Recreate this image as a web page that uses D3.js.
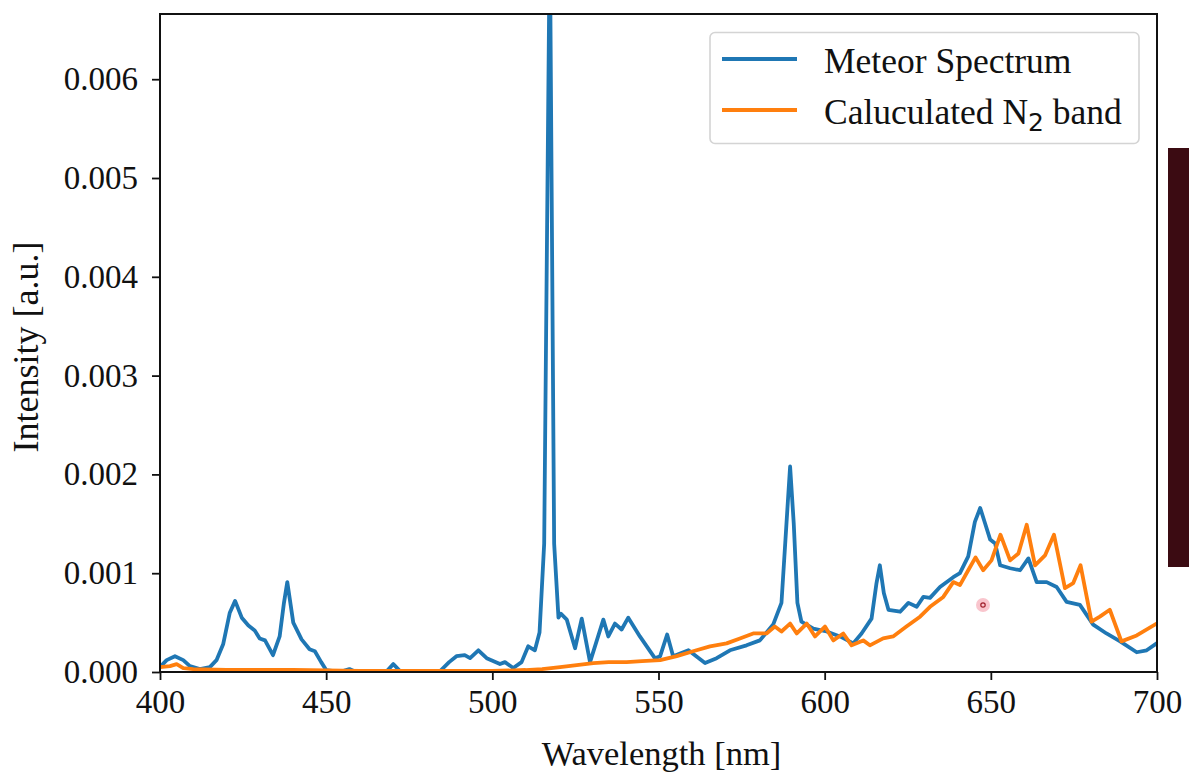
<!DOCTYPE html>
<html>
<head>
<meta charset="utf-8">
<script src="https://cdn.jsdelivr.net/npm/d3@7"></script>
<style>
  html, body { margin: 0; padding: 0; background: #ffffff; }
  svg { display: block; }
  text { font-family: "Liberation Serif", "Times New Roman", serif; fill: #111; }
</style>
</head>
<body>
<svg id="chart" width="1189" height="775"></svg>
<script>
// ---- Data ----
const meteorWavelength = [400,402,404.5,407,409,412,415,417,419,421,422.6,424.6,426.6,428.5,430,431.6,434,436,437.3,438.3,440.1,442.6,445,446.6,448.5,450,454,457,459,468,470.2,472.5,484,487,489.2,491.7,493.3,495.8,498.3,502.3,503.8,506.3,508.8,510.8,512.8,514.2,515.6,517.3,518.6,519.9,520.6,522.4,524.9,526.9,529.4,533.4,534.9,536.9,538.9,540.9,544.4,548.9,550.5,552.6,554.4,559,564,567.5,571.5,576.5,580.5,584.5,587,588.5,589.6,590.7,591.8,593,596.6,600.6,604.6,608.6,611.1,614.1,615.6,616.6,617.8,619.2,622.7,625.2,627.7,629.7,631.7,634.7,638.7,640.7,643.2,645.2,646.8,648.3,649.8,651.3,652.8,655.8,658.8,661.3,663.8,666.8,669.8,672.8,676.8,680.8,684.8,688.9,693.9,696.9,699.9];
const meteorIntensity = [0.00005,0.00012,0.00016,0.00012,0.00006,0.00003,0.00005,0.00012,0.00028,0.00060,0.00072,0.00055,0.00047,0.00042,0.00034,0.00032,0.00017,0.00036,0.00070,0.00091,0.00050,0.00033,0.00023,0.00021,0.00010,0.00002,0.0,0.00003,0.0,0.0,0.00008,0.0,0.0,0.00010,0.00016,0.00017,0.00014,0.00022,0.00014,0.00008,0.00010,0.00004,0.00010,0.00026,0.00022,0.00040,0.00130,0.00750,0.00130,0.00055,0.00059,0.00053,0.00024,0.00054,0.00010,0.00053,0.00036,0.00049,0.00043,0.00055,0.00036,0.00014,0.00016,0.00038,0.00016,0.00022,0.00009,0.00014,0.00022,0.00027,0.00032,0.00048,0.00070,0.00150,0.00208,0.00150,0.00070,0.00051,0.00044,0.00041,0.00036,0.00029,0.00039,0.00054,0.00090,0.00108,0.00080,0.00063,0.00061,0.00070,0.00066,0.00076,0.00075,0.00086,0.00096,0.00100,0.00117,0.00152,0.00166,0.00150,0.00134,0.00130,0.00108,0.00105,0.00103,0.00115,0.00091,0.00091,0.00086,0.00071,0.00068,0.00048,0.00039,0.00031,0.00020,0.00022,0.00029];

const n2Wavelength = [400,403,405,407,410,420,440,460,480,500,510,515,520.4,525.4,530.4,535,540.4,545,550.5,555.5,560.4,565.5,570.5,574.5,578.5,582.5,585,587,589.6,591.6,594.6,597.1,600.1,602.6,605.6,608.1,611.6,613.6,617.6,620.6,624.6,628.7,631.7,635.7,638.7,640.7,643.2,645.4,647.7,650.2,652.9,655.8,658.3,660.8,663.3,666.3,669,672.3,674.8,677,680.3,682.8,685.8,689.3,693.9,699.9];
const n2Intensity = [0.00005,0.00006,0.00008,0.00004,0.00003,0.00002,0.00002,0.00001,0.00001,0.00001,0.00002,0.00003,0.00005,0.00007,0.00009,0.00010,0.00010,0.00011,0.00012,0.00016,0.00021,0.00026,0.00029,0.00034,0.00039,0.00039,0.00046,0.00041,0.00049,0.00039,0.00049,0.00036,0.00046,0.00032,0.00039,0.00027,0.00032,0.00027,0.00034,0.00036,0.00046,0.00056,0.00066,0.00076,0.00091,0.00088,0.00103,0.00116,0.00103,0.00113,0.00139,0.00113,0.00120,0.00149,0.00108,0.00118,0.00139,0.00085,0.00090,0.00108,0.00051,0.00056,0.00063,0.00031,0.00037,0.00049];

const xTicks = [400,450,500,550,600,650,700];
const yTicks = [0.000,0.001,0.002,0.003,0.004,0.005,0.006];
const seriesNames = ["Meteor Spectrum", "Caluculated N"];
const seriesColors = ["#1f77b4", "#ff7f0e"];

// ---- Layout ----
const svg = d3.select("#chart");
const L = 160, R = 1157, T = 14, B = 672;

const x = d3.scaleLinear().domain([400, 700]).range([L, R]);
const y = d3.scaleLinear().domain([0, 0.00666]).range([B, T]);

svg.append("defs").append("clipPath").attr("id", "plotclip")
  .append("rect").attr("x", L).attr("y", T).attr("width", R - L).attr("height", B - T);

const meteor = meteorWavelength.map((w, i) => [w, meteorIntensity[i]]);
const n2 = n2Wavelength.map((w, i) => [w, n2Intensity[i]]);

const line = d3.line().x(d => x(d[0])).y(d => y(d[1]));

const plot = svg.append("g").attr("clip-path", "url(#plotclip)");
plot.append("path").datum(meteor)
  .attr("d", line).attr("fill", "none")
  .attr("stroke", seriesColors[0]).attr("stroke-width", 3.8)
  .attr("stroke-linejoin", "round").attr("stroke-linecap", "round");
plot.append("path").datum(n2)
  .attr("d", line).attr("fill", "none")
  .attr("stroke", seriesColors[1]).attr("stroke-width", 3.8)
  .attr("stroke-linejoin", "round").attr("stroke-linecap", "round");

// ---- Axes ----
const xAxis = d3.axisBottom(x).tickValues(xTicks).tickSize(8).tickPadding(10).tickFormat(d3.format("d"));
const yAxis = d3.axisLeft(y).tickValues(yTicks).tickSize(8).tickPadding(14).tickFormat(d3.format(".3f"));

const gx = svg.append("g").attr("transform", `translate(0,${B})`).call(xAxis);
const gy = svg.append("g").attr("transform", `translate(${L},0)`).call(yAxis);
[gx, gy].forEach(g => {
  g.select(".domain").remove();
  g.selectAll(".tick line").attr("stroke", "#111").attr("stroke-width", 1.8);
  g.selectAll(".tick text").style("font-family", '"Liberation Serif", serif')
    .style("font-size", "33px").attr("fill", "#111");
});

// frame
svg.append("rect").attr("x", L).attr("y", T).attr("width", R - L).attr("height", B - T)
  .attr("fill", "none").attr("stroke", "#111").attr("stroke-width", 2);

// axis titles
svg.append("text").attr("x", (L + R) / 2 + 3).attr("y", 765)
  .attr("text-anchor", "middle").style("font-size", "34.5px").text("Wavelength [nm]");
svg.append("text").attr("transform", `translate(38,${(T + B) / 2 + 4}) rotate(-90)`)
  .attr("text-anchor", "middle").style("font-size", "36px").text("Intensity [a.u.]");

// ---- Legend ----
const lg = svg.append("g");
lg.append("rect").attr("x", 710).attr("y", 32.5).attr("width", 429).attr("height", 111)
  .attr("rx", 5).attr("fill", "#fff").attr("stroke", "#d4d4d4").attr("stroke-width", 1.6);
const legY = [59, 110];
seriesNames.forEach((name, i) => {
  lg.append("line").attr("x1", 722).attr("x2", 797).attr("y1", legY[i]).attr("y2", legY[i])
    .attr("stroke", seriesColors[i]).attr("stroke-width", 3.8);
  const t = lg.append("text").attr("x", 824).attr("y", legY[i] + 14).style("font-size", "35.5px");
  t.append("tspan").text(name);
  if (i === 1) {
    t.append("tspan").attr("dy", 7).style("font-size", "25px")
      .style("font-family", '"DejaVu Sans", sans-serif').text("2");
    t.append("tspan").attr("dy", -7).text(" band");
  }
});

// ---- Artifacts visible in the reference image ----
svg.append("rect").attr("x", 1168).attr("y", 148).attr("width", 21).attr("height", 419)
  .attr("fill", "#3b0b12");
svg.append("circle").attr("cx", 983).attr("cy", 605).attr("r", 7)
  .attr("fill", "#f7b7c0").attr("opacity", 0.8);
svg.append("circle").attr("cx", 983).attr("cy", 605).attr("r", 2.2)
  .attr("fill", "none").attr("stroke", "#a0202c").attr("stroke-width", 1.2);
</script>
</body>
</html>
